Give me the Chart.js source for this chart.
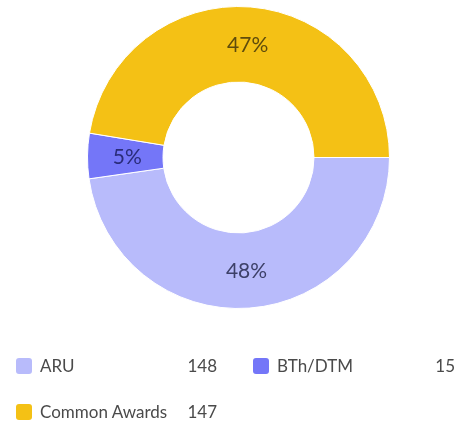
<!DOCTYPE html>
<html>
<head>
<meta charset="utf-8">
<script src="https://cdn.jsdelivr.net/npm/chart.js@4.4.0/dist/chart.umd.min.js"></script>
<style>
  html, body { margin:0; padding:0; background:#fff; width:459px; height:427px; overflow:hidden; font-family: Lato, "Open Sans", sans-serif; }
  #wrap { position:absolute; left:87px; top:6px; width:303px; height:303px; }
  .legend { position:absolute; left:0; top:0; width:459px; height:427px; pointer-events:none; }
  .item { position:absolute; height:20px; font-size:17px; color:#4a4a4a; }
  .sw { width:16px; height:16px; border-radius:3px; position:absolute; left:0; top:2px; }
  .lab { position:absolute; left:24px; top:0; line-height:20px; white-space:nowrap; }
  .val { position:absolute; right:0; top:0; line-height:20px; }
</style>
</head>
<body>
<div id="wrap"><canvas id="c"></canvas></div>
<div class="legend" id="legend"></div>
<script>
const categories = ["ARU", "BTh/DTM", "Common Awards"];
const counts = [148, 15, 147];
const sliceColors = ["#b8bbfb", "#7476f8", "#f4c115"];
const labelColors = ["#3d4068", "#2a2c7a", "#5e4c0c"];

const total = counts.reduce((a, b) => a + b, 0);

const pctLabels = {
  id: 'pctLabels',
  afterDatasetsDraw(chart) {
    const ctx = chart.ctx;
    const meta = chart.getDatasetMeta(0);
    ctx.save();
    ctx.font = '21px Lato, sans-serif';
    ctx.textAlign = 'center';
    ctx.textBaseline = 'middle';
    meta.data.forEach((arc, i) => {
      const p = arc.getCenterPoint();
      ctx.fillStyle = labelColors[i];
      ctx.fillText(Math.round(counts[i] / total * 100) + '%', p.x + (i === 1 ? 2 : 0), p.y + 1);
    });
    ctx.restore();
  }
};

new Chart(document.getElementById('c'), {
  type: 'doughnut',
  data: {
    labels: categories,
    datasets: [{
      data: counts,
      backgroundColor: sliceColors,
      borderColor: '#ffffff',
      borderWidth: 1,
      hoverOffset: 0
    }]
  },
  options: {
    responsive: true,
    maintainAspectRatio: false,
    animation: false,
    rotation: 90,
    cutout: '50%',
    layout: { padding: 0 },
    plugins: { legend: { display: false }, tooltip: { enabled: false } }
  },
  plugins: [pctLabels]
});

// HTML legend
const legendPos = [
  { left: 16, top: 356, width: 201 },
  { left: 253, top: 356, width: 202 },
  { left: 16, top: 402, width: 201 }
];
const lg = document.getElementById('legend');
categories.forEach((name, i) => {
  const d = document.createElement('div');
  d.className = 'item';
  d.style.left = legendPos[i].left + 'px';
  d.style.top = legendPos[i].top + 'px';
  d.style.width = legendPos[i].width + 'px';
  d.innerHTML = '<span class="sw" style="background:' + sliceColors[i] + '"></span>' +
    '<span class="lab">' + name + '</span><span class="val">' + counts[i] + '</span>';
  lg.appendChild(d);
});
</script>
</body>
</html>
